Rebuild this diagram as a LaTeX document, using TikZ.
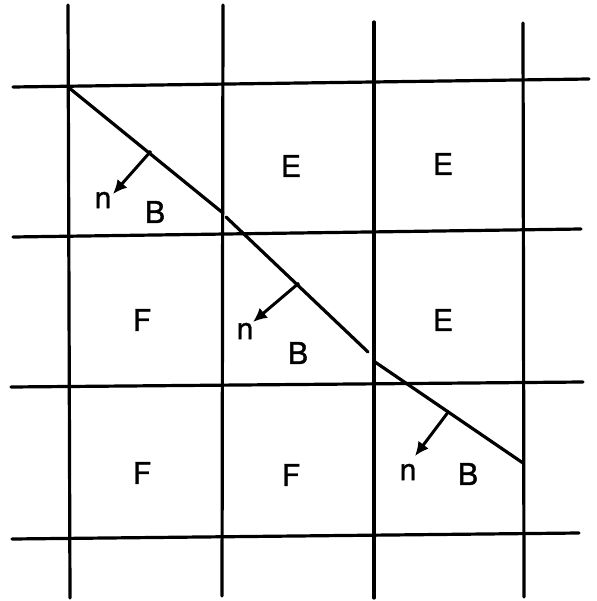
\documentclass[tikz,border=0pt]{standalone}
\usepackage{fontspec}
\setmainfont{TeX Gyre Heros}
\newfontfamily\lblfont{TeX Gyre Heros}[FakeBold=1.3]
\usetikzlibrary{arrows.meta}
\begin{document}
\begin{tikzpicture}[x=1pt,y=-1pt,
  gridline/.style={line width=3.2pt,line cap=round},
  boundary/.style={line width=3.2pt,line cap=round},
  normalarrow/.style={line width=3pt,-{Latex[length=14pt,width=13pt]}},
  lbl/.style={font=\lblfont\fontsize{30}{30}\selectfont, inner sep=0pt}]
\useasboundingbox[fill=white] (0,0) rectangle (596,601);
% grid: vertical lines
\draw[gridline] (68,5) -- (70,598);
\draw[gridline] (223,5) -- (222,596);
\draw[gridline] (374,22) -- (374,598);
\draw[gridline] (523,23) -- (524,597);
% grid: horizontal lines
\draw[gridline] (13,87) -- (589,79);
\draw[gridline] (13,237) -- (581,229);
\draw[gridline] (11,387) -- (583,382);
\draw[gridline] (12,539) -- (579,533);
% boundary
\coordinate (p0) at (68,87);
\coordinate (p1) at (223,213);
\coordinate (p2) at (226,217);
\coordinate (p3) at (368,352);
\coordinate (p4) at (375,362);
\coordinate (p5) at (523,463);
\draw[boundary] (p0) -- (p1);
\draw[boundary] (p2) -- (p3);
\draw[boundary] (p4) -- (p5);
% normals
\coordinate (b1) at (151,151);
\coordinate (t1) at (113,194);
\coordinate (b2) at (299,283);
\coordinate (t2) at (253,322);
\coordinate (b3) at (449,411);
\coordinate (t3) at (415,456);
\draw[normalarrow] (b1) -- (t1);
\draw[normalarrow] (b2) -- (t2);
\draw[normalarrow] (b3) -- (t3);
% labels
\node[lbl] (n1) at (103,200) {n};
\node[lbl] (B1) at (155,212) {B};
\node[lbl] (n2) at (245,331) {n};
\node[lbl] (B2) at (298,353) {B};
\node[lbl] (n3) at (408,472) {n};
\node[lbl] (B3) at (468,474) {B};
\node[lbl] (E1) at (291,166) {E};
\node[lbl] (E2) at (443,164) {E};
\node[lbl] (E3) at (443,320) {E};
\node[lbl] (F1) at (142,320) {F};
\node[lbl] (F2) at (142,473) {F};
\node[lbl] (F3) at (291,475) {F};
\end{tikzpicture}
\end{document}
